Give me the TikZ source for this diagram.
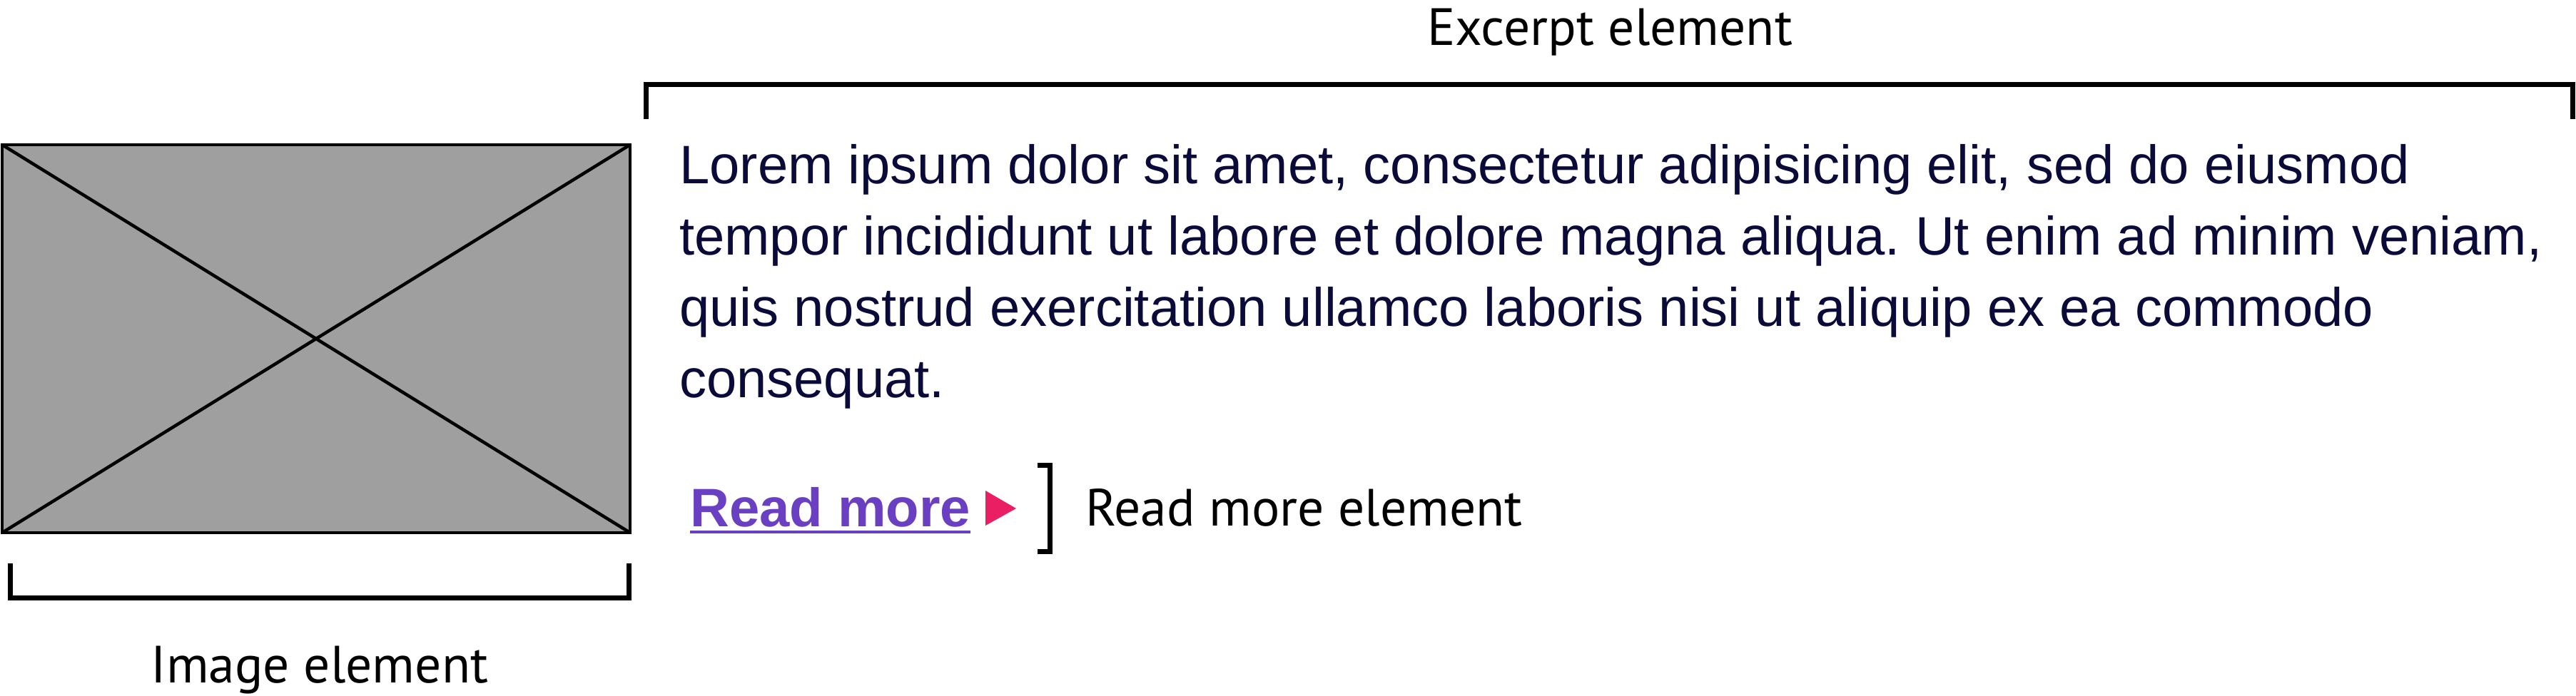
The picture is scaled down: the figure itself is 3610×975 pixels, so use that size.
\documentclass[tikz,border=0pt]{standalone}
\usepackage{fontspec}
\setmainfont{Liberation Sans}
\newfontfamily\labelfont{PT Sans}
\frenchspacing
\definecolor{navy}{HTML}{0B0B3A}
\definecolor{rmpurple}{HTML}{6A3FC1}
\definecolor{rmpink}{HTML}{E91E63}
\definecolor{imggray}{HTML}{9F9F9F}
\begin{document}
\begin{tikzpicture}[x=1pt,y=-1pt,
  bodytext/.style={anchor=base west,inner sep=0pt,text=navy,font=\frenchspacing\fontsize{76}{100}\selectfont},
  lbl/.style={inner sep=0pt,text=black,font=\labelfont\fontsize{73.5}{88}\selectfont},
  bracketline/.style={draw=black,line width=7pt},
  imgline/.style={draw=black,line width=4.5pt}]
\useasboundingbox (0,0) rectangle (3610,975);
% image placeholder
\coordinate (iTL) at (3,203);
\coordinate (iBR) at (883,747);
\coordinate (iTR) at (883,203);
\coordinate (iBL) at (3,747);
\path[fill=imggray,imgline] (iTL) rectangle (iBR);
\draw[imgline] (iTL) -- (iBR);
\draw[imgline] (iBL) -- (iTR);
% image bracket
\coordinate (b1) at (14,790);
\coordinate (b2) at (14,838);
\coordinate (b3) at (881,838);
\coordinate (b4) at (881,790);
\draw[bracketline] (b1) -- (b2) -- (b3) -- (b4);
\node[lbl,anchor=base] (imglabel) at (448,957) {Image element};
% excerpt bracket
\coordinate (e1) at (905,167);
\coordinate (e2) at (905,118);
\coordinate (e3) at (3605,118);
\coordinate (e4) at (3605,167);
\draw[bracketline] (e1) -- (e2) -- (e3) -- (e4);
\node[lbl,anchor=base] (exclabel) at (2256,63) {Excerpt element};
% paragraph
\node[bodytext] (l1) at (952,257) {Lorem ipsum dolor sit amet, consectetur adipisicing elit, sed do eiusmod};
\node[bodytext] (l2) at (952,357) {tempor incididunt ut labore et dolore magna aliqua. Ut enim ad minim veniam,};
\node[bodytext] (l3) at (952,457) {quis nostrud exercitation ullamco laboris nisi ut aliquip ex ea commodo};
\node[bodytext] (l4) at (952,557) {consequat.};
% read more
\node[bodytext,text=rmpurple,font=\bfseries\fontsize{76}{100}\selectfont] (rm) at (967,738) {Read more};
\draw[rmpurple,line width=4pt] ([yshift=-8pt]rm.base west) -- ([yshift=-8pt]rm.base east);
\coordinate (t1) at (1381,688);
\coordinate (t2) at (1424,713);
\coordinate (t3) at (1381,737);
\fill[rmpink] (t1) -- (t2) -- (t3) -- cycle;
\coordinate (r1) at (1454,652);
\coordinate (r2) at (1471,652);
\coordinate (r3) at (1471,773);
\coordinate (r4) at (1454,773);
\draw[bracketline] (r1) -- (r2) -- (r3) -- (r4);
\node[lbl,anchor=base west] (rmlabel) at (1521,737) {Read more element};
\end{tikzpicture}
\end{document}
